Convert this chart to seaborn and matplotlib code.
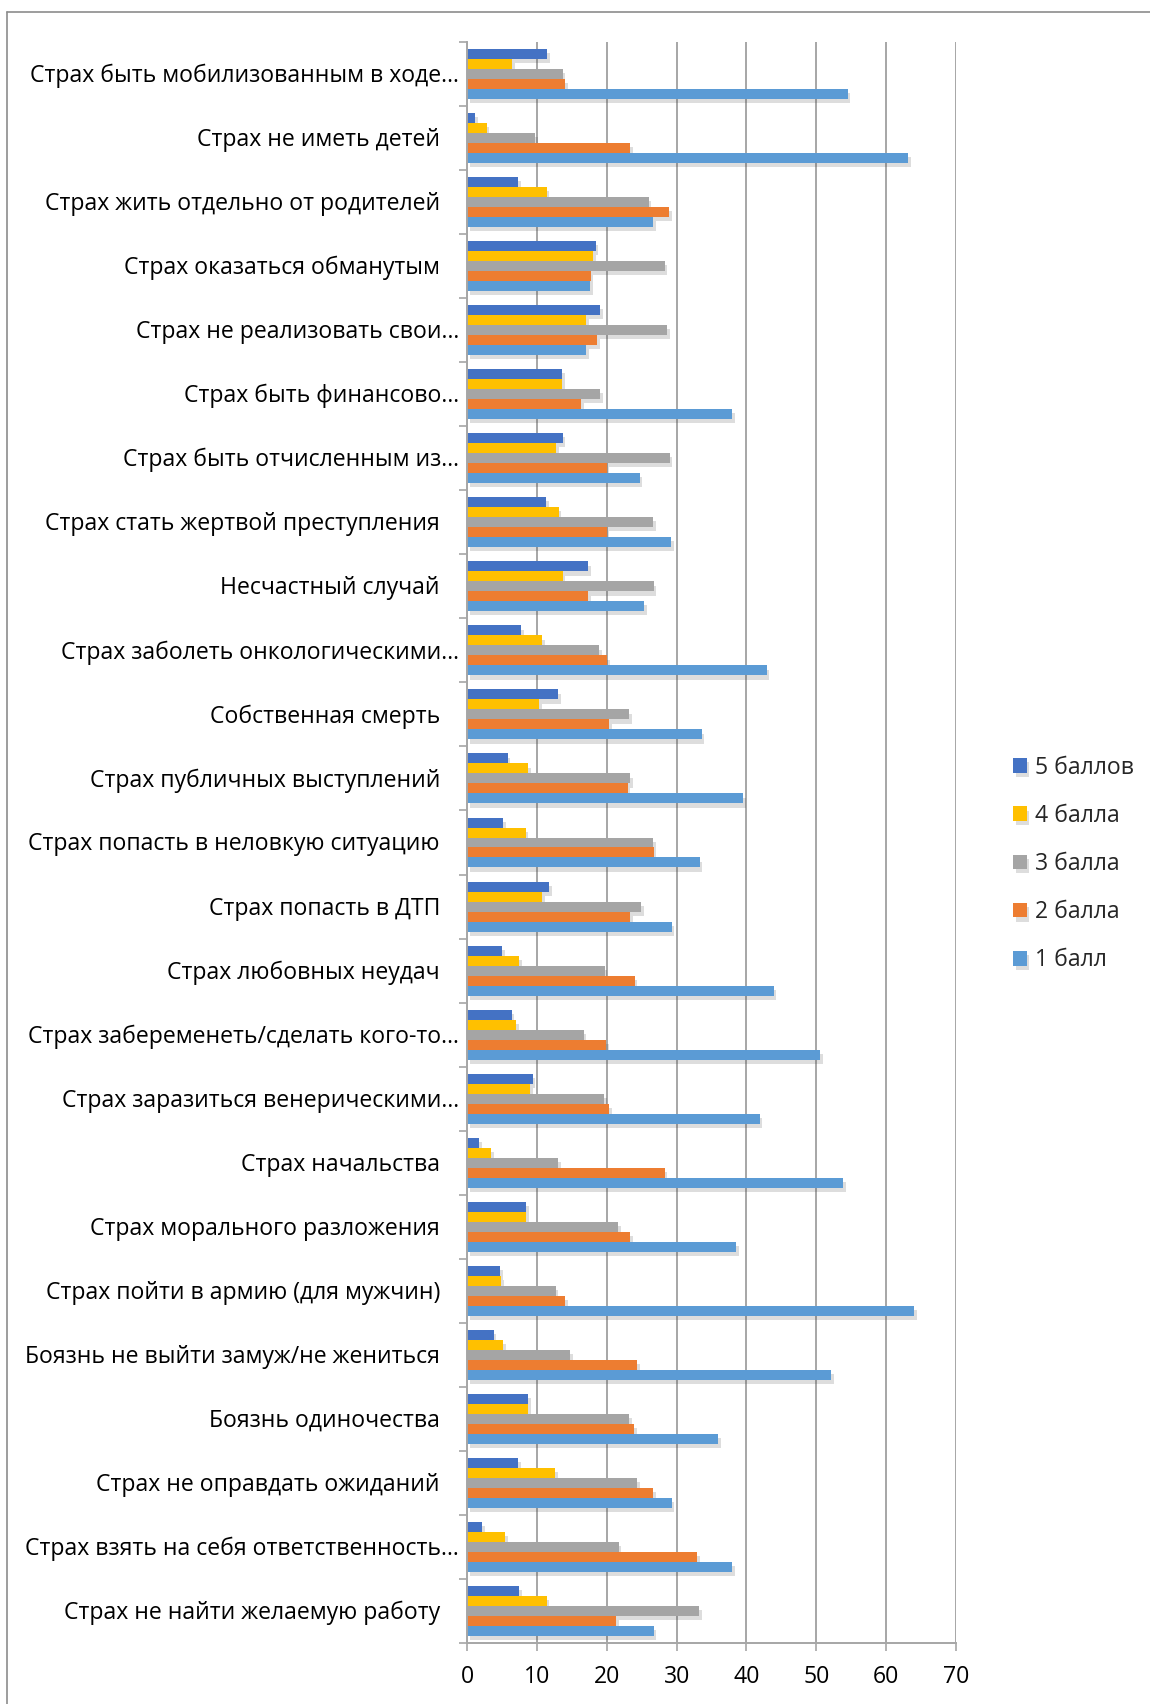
import pandas as pd
import seaborn as sns
import matplotlib.pyplot as plt
import matplotlib.patheffects as pe
import matplotlib.transforms as mtransforms
from matplotlib.lines import Line2D
from matplotlib.ticker import FixedLocator

categories = [
    'Страх быть мобилизованным в ходе…',
    'Страх не иметь детей',
    'Страх жить отдельно от родителей',
    'Страх оказаться обманутым',
    'Страх не реализовать свои…',
    'Страх быть финансово…',
    'Страх быть отчисленным из…',
    'Страх стать жертвой преступления',
    'Несчастный случай',
    'Страх заболеть онкологическими…',
    'Собственная смерть',
    'Страх публичных выступлений',
    'Страх попасть в неловкую ситуацию',
    'Страх попасть в ДТП',
    'Страх любовных неудач',
    'Страх забеременеть/сделать кого-то…',
    'Страх заразиться венерическими…',
    'Страх начальства',
    'Страх морального разложения',
    'Страх пойти в армию (для мужчин)',
    'Боязнь не выйти замуж/не жениться',
    'Боязнь одиночества',
    'Страх не оправдать ожиданий',
    'Страх взять на себя ответственность…',
    'Страх не найти желаемую работу',
]

score5 = [11.5, 1.2, 7.3, 18.4, 19.0, 13.6, 13.7, 11.3, 17.3, 7.7, 13.0, 5.8, 5.2,
          11.8, 5.0, 6.4, 9.4, 1.7, 8.5, 4.7, 3.8, 8.7, 7.3, 2.2, 7.5]
score4 = [6.5, 2.8, 11.4, 18.0, 17.1, 13.6, 12.8, 13.1, 13.7, 10.7, 10.3, 8.7, 8.4,
          10.8, 7.5, 7.0, 9.0, 3.4, 8.5, 4.9, 5.2, 8.7, 12.6, 5.4, 11.4]
score3 = [13.7, 9.7, 26.0, 28.3, 28.6, 19.0, 29.0, 26.6, 26.7, 18.9, 23.2, 23.3, 26.6,
          24.9, 19.7, 16.7, 19.6, 13.0, 21.6, 12.7, 14.8, 23.2, 24.4, 21.7, 33.2]
score2 = [14.0, 23.3, 28.9, 17.7, 18.6, 16.3, 20.0, 20.0, 17.3, 20.1, 20.3, 23.0, 26.7,
          23.4, 24.0, 19.9, 20.3, 28.3, 23.3, 14.0, 24.3, 23.9, 26.6, 32.9, 21.3]
score1 = [54.5, 63.2, 26.6, 17.6, 17.1, 37.9, 24.7, 29.2, 25.3, 42.9, 33.6, 39.5, 33.3,
          29.3, 43.9, 50.5, 41.9, 53.8, 38.5, 64.0, 52.1, 35.9, 29.3, 37.9, 26.7]

series_names = ['5 баллов', '4 балла', '3 балла', '2 балла', '1 балл']
series_values = [score5, score4, score3, score2, score1]
colors = ['#4472C4', '#FFC000', '#A5A5A5', '#ED7D31', '#5B9BD5']

x_ticks = [0, 10, 20, 30, 40, 50, 60, 70]

df = pd.concat([
    pd.DataFrame({'category': categories, 'series': name, 'value': vals})
    for name, vals in zip(series_names, series_values)
], ignore_index=True)

sns.set_theme(style='white')
plt.rcParams['font.family'] = ['Open Sans', 'DejaVu Sans']
font_size = 16.6

fig = plt.figure(figsize=(11.5, 17.04), dpi=100)
ax = fig.add_axes([467 / 1150, 1 - 1643 / 1704, (956 - 467) / 1150, (1643 - 42) / 1704])

sns.barplot(data=df, y='category', x='value', hue='series', order=categories,
            hue_order=series_names, palette=colors, orient='h', width=0.78,
            gap=0, ax=ax, legend=True, saturation=1, linewidth=0)

for bar in ax.patches:
    bar.set_path_effects([pe.SimplePatchShadow(offset=(2, -3), alpha=0.18, shadow_rgbFace='#444444'),
                          pe.Normal()])

ax.set_xlim(0, 70)
ax.set_ylim(len(categories) - 0.5, -0.5)
ax.set_xticks(x_ticks)
ax.set_xlabel('')
ax.set_ylabel('')

grid_color = '#A6A6A6'
ax.xaxis.grid(True, color=grid_color, linewidth=1.4)
ax.yaxis.grid(False)
ax.set_axisbelow(True)
for side in ['top', 'right']:
    ax.spines[side].set_visible(False)
for side in ['left', 'bottom']:
    ax.spines[side].set_color(grid_color)
    ax.spines[side].set_linewidth(1.4)

ax.yaxis.set_minor_locator(FixedLocator([i - 0.5 for i in range(len(categories) + 1)]))
ax.tick_params(axis='y', which='major', length=0, labelleft=False)
ax.tick_params(axis='y', which='minor', length=6, width=1.2, color=grid_color, left=True)
ax.tick_params(axis='x', which='major', length=6, width=1.2, color=grid_color,
               bottom=True, pad=10, labelsize=font_size, labelcolor='black')

# category labels: Excel puts truncated labels closer to the axis
for i, name in enumerate(categories):
    gap_px = 8 if name.endswith('…') else 27
    shift = mtransforms.ScaledTranslation(-gap_px / 100, -2 / 100, fig.dpi_scale_trans)
    ax.text(0, i, name, transform=ax.get_yaxis_transform() + shift,
            ha='right', va='center', fontsize=font_size, color='black')

handles, labels = ax.get_legend_handles_labels()
ax.legend_.remove()
fig.legend(handles, labels, loc='center left', bbox_to_anchor=(992 / 1150, 1 - 864 / 1704),
           frameon=False, fontsize=font_size, handlelength=0.6, handleheight=0.6,
           handletextpad=0.35, labelspacing=1.05)

# outer chart frame (only top and left edges visible)
fig.add_artist(Line2D([7 / 1150, 1], [1 - 12 / 1704, 1 - 12 / 1704],
                      transform=fig.transFigure, color='#8C8C8C', linewidth=1.2))
fig.add_artist(Line2D([7 / 1150, 7 / 1150], [1 - 12 / 1704, 0],
                      transform=fig.transFigure, color='#8C8C8C', linewidth=1.2))

fig.savefig('out.png', dpi=100)
